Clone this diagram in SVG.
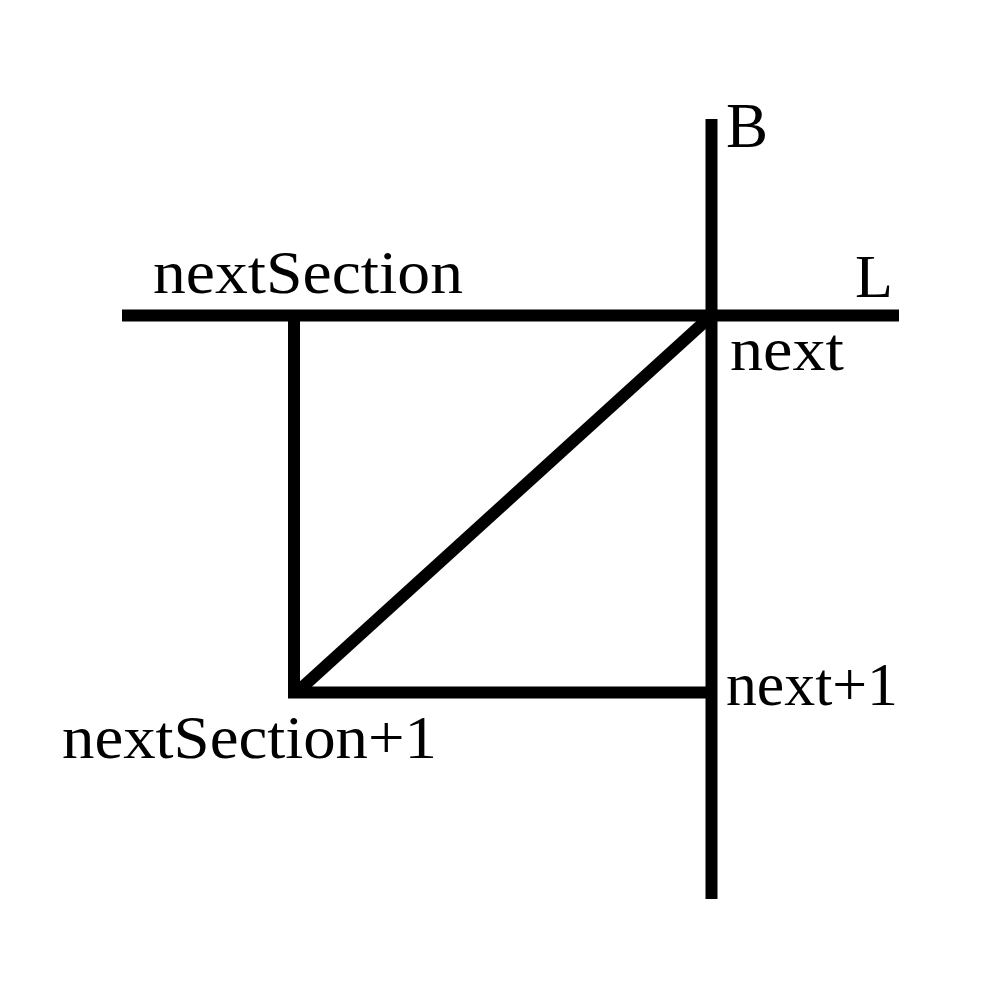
<svg xmlns="http://www.w3.org/2000/svg" width="1000" height="1000" viewBox="0 0 1000 1000">
<style>
.ln{stroke:#000;stroke-width:12;fill:none;stroke-linecap:butt}
.lb{font-family:"Liberation Serif","Times New Roman",serif;font-size:62px;fill:#000}
</style>
<rect width="1000" height="1000" fill="#fff"/>
<g id="connectors">
<line class="ln" x1="711.5" y1="119" x2="711.5" y2="899"/>
<line class="ln" x1="122" y1="315.5" x2="899" y2="315.5"/>
<line class="ln" x1="294" y1="310" x2="294" y2="697"/>
<line class="ln" x1="288" y1="692.5" x2="711" y2="692.5"/>
<line class="ln" x1="296" y1="693" x2="711" y2="316"/>
</g>
<g id="labels">
<text class="lb" x="726" y="147" style="font-size:63px">B</text>
<text class="lb" x="855" y="297">L</text>
<text class="lb" x="153" y="293" textLength="310" lengthAdjust="spacingAndGlyphs">nextSection</text>
<text class="lb" x="730" y="370" textLength="114" lengthAdjust="spacingAndGlyphs">next</text>
<text class="lb" x="726" y="705" textLength="172" lengthAdjust="spacingAndGlyphs">next+1</text>
<text class="lb" x="62" y="758" textLength="375" lengthAdjust="spacingAndGlyphs">nextSection+1</text>
</g>
</svg>
